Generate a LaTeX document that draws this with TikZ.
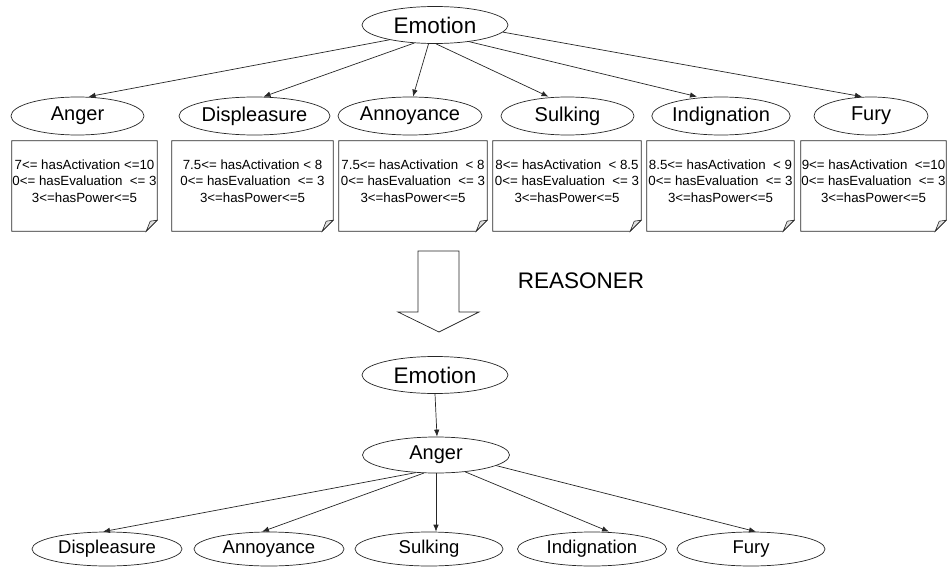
\documentclass[tikz,border=0pt]{standalone}
\usepackage{fontspec}
\setmainfont{Liberation Sans}
\usetikzlibrary{shapes.geometric,arrows.meta}

\tikzset{
  concept/.style={ellipse, draw=black!85, line width=0.7pt, inner sep=0pt, fill=white},
  topconcept/.style={concept, minimum height=38pt, font=\fontsize{20}{22}\selectfont},
  rootconcept/.style={concept, minimum width=146pt, minimum height=37pt, font=\fontsize{22.5}{24}\selectfont},
  lowconcept/.style={concept, minimum width=149pt, minimum height=34pt, font=\fontsize{18.5}{20}\selectfont},
  notebox/.style={rectangle, draw=none, inner sep=0pt, minimum height=90pt},
  notetxt/.style={align=center, inner sep=0pt, font=\fontsize{13.3}{16.5}\selectfont},
  link/.style={draw=black!85, line width=0.7pt, -{Latex[length=7pt,width=5.5pt]}},
  noteline/.style={draw=black!85, line width=0.8pt},
}

% folded-corner outline around a note box
\newcommand{\dognote}[1]{%
  \draw[noteline] (#1.north west) -- (#1.north east) -- ([yshift=11pt]#1.south east)
    -- ([xshift=-11pt]#1.south east) -- (#1.south west) -- cycle;
  \draw[noteline, fill=black!12, line width=0.6pt] ([yshift=11pt]#1.south east)
    .. controls ([xshift=-4pt,yshift=11pt]#1.south east) .. ([xshift=-7pt,yshift=10pt]#1.south east)
    -- ([xshift=-11pt]#1.south east) -- cycle;
}

\begin{document}
\begin{tikzpicture}[x=1pt,y=-1pt]
\useasboundingbox (0,0) rectangle (947,567);

% ---------- upper hierarchy ----------
\node[rootconcept] (E) at (435,25) {Emotion};

\node[topconcept, minimum width=133pt] (A)  at (77.5,116) {Anger};
\node[topconcept, minimum width=151pt] (D)  at (254.5,116) {Displeasure};
\node[topconcept, minimum width=144pt] (An) at (410,116) {Annoyance};
\node[topconcept, minimum width=133pt] (S)  at (567.5,116) {Sulking};
\node[topconcept, minimum width=132pt] (I)  at (721,116) {Indignation};
\node[topconcept, minimum width=114pt] (F)  at (871,116) {Fury};

\path[link] (E.198) -- ([xshift=11pt]A.north);
\path[link] (E.221) -- ([xshift=9pt]D.north);
\path[link] (E.251) -- ([xshift=3pt]An.north);
\path[link] (E.273) -- ([xshift=-19pt]S.north);
\path[link] (E.334) -- ([xshift=-24pt]I.north);
\path[link] (E.354) -- ([xshift=-9pt]F.north);

% ---------- value ranges ----------
\node[notebox, minimum width=145pt] (bA)  at (84.5,186) {};
\node[notebox, minimum width=161pt] (bD)  at (252.5,186) {};
\node[notebox, minimum width=148pt] (bAn) at (413,186) {};
\node[notebox, minimum width=148pt] (bS)  at (567,186) {};
\node[notebox, minimum width=147pt] (bI)  at (720.5,186) {};
\node[notebox, minimum width=145pt] (bF)  at (873.5,186) {};

\foreach \b in {bA,bD,bAn,bS,bI,bF} {\dognote{\b}}

\node[notetxt] (tA)  at ([yshift=5pt]bA.center)  {7<= hasActivation <=10\\0<= hasEvaluation \ <= 3\\3<=hasPower<=5};
\node[notetxt] (tD)  at ([yshift=5pt]bD.center)  {7.5<= hasActivation < 8\\0<= hasEvaluation \ <= 3\\3<=hasPower<=5};
\node[notetxt] (tAn) at ([yshift=5pt]bAn.center) {7.5<= hasActivation \ < 8\\0<= hasEvaluation \ <= 3\\3<=hasPower<=5};
\node[notetxt] (tS)  at ([yshift=5pt]bS.center)  {8<= hasActivation \ < 8.5\\0<= hasEvaluation \ <= 3\\3<=hasPower<=5};
\node[notetxt] (tI)  at ([yshift=5pt]bI.center)  {8.5<= hasActivation \ < 9\\0<= hasEvaluation \ <= 3\\3<=hasPower<=5};
\node[notetxt] (tF)  at ([yshift=5pt]bF.center)  {9<= hasActivation \ <=10\\0<= hasEvaluation \ <= 3\\3<=hasPower<=5};

% ---------- reasoning step ----------
\draw[draw=black!85, line width=0.7pt, fill=white]
  (418,251) -- (459,251) -- (459,312) -- (479,312) -- (439,332) -- (398,312) -- (418,312) -- cycle;
\node[font=\fontsize{22.5}{24}\selectfont, inner sep=0pt] (R) at (581,281) {REASONER};

% ---------- inferred hierarchy ----------
\node[rootconcept] (E2) at (435,375) {Emotion};
\node[rootconcept, minimum width=147pt, minimum height=36pt, font=\fontsize{20}{22}\selectfont] (A2) at (436,455) {Anger};

\node[lowconcept, minimum width=150pt] (D2)  at (107,549) {Displeasure};
\node[lowconcept, minimum width=150pt] (An2) at (269,549) {Annoyance};
\node[lowconcept, minimum width=148pt] (S2)  at (429,549) {Sulking};
\node[lowconcept, minimum width=149pt] (I2)  at (592,549) {Indignation};
\node[lowconcept, minimum width=148pt] (F2)  at (751,549) {Fury};

\path[link] (E2.south) -- ([xshift=1pt]A2.north);
\path[link] (A2.221) -- ([xshift=-4pt]D2.north);
\path[link] (A2.236) -- ([xshift=-7pt]An2.north);
\path[link] (A2.south) -- ([xshift=7pt]S2.north);
\path[link] (A2.330) -- ([xshift=17pt]I2.north);
\path[link] (A2.350) -- ([xshift=5pt]F2.north);
\end{tikzpicture}
\end{document}
